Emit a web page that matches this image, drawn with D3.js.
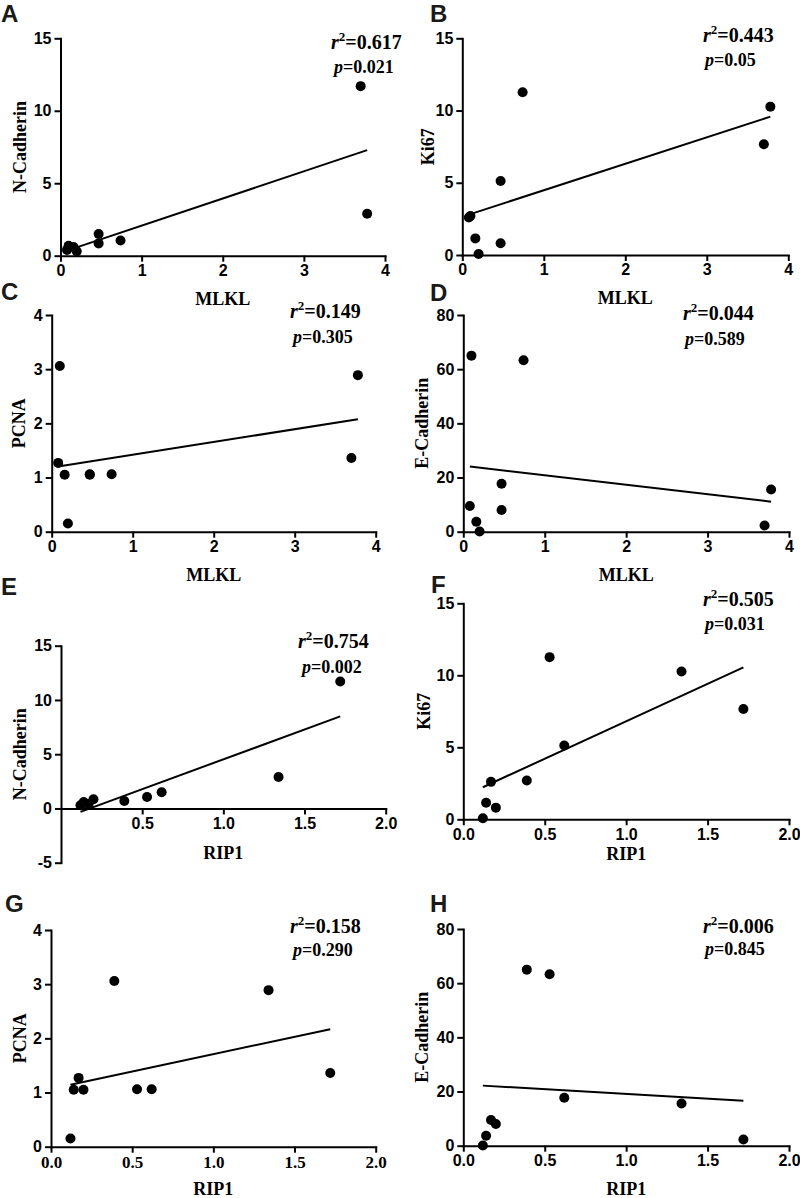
<!DOCTYPE html>
<html>
<head>
<meta charset="utf-8">
<script src="https://cdn.jsdelivr.net/npm/d3@7/dist/d3.min.js"></script>
<style>
  html, body { margin: 0; padding: 0; background: #fff; }
  svg { display: block; }
  .tick text { font-family: "Liberation Sans", Arial, sans-serif; font-weight: bold; font-size: 16px; fill: #000; }
  .serifticks .tick text { font-family: "Liberation Serif", "Times New Roman", serif; font-size: 17px; }
  .domain, .tick line { stroke: #000; stroke-width: 2; }
</style>
</head>
<body>
<svg id="chart" width="800" height="1198"></svg>
<script>
// ---- data: nine samples ----
const MLKL  = [0.20, 0.16, 0.47, 0.08, 0.10, 0.47, 0.74, 3.78, 3.70];
const RIP1  = [0.12, 0.14, 0.20, 0.17, 0.39, 0.62, 0.53, 1.34, 1.72];
const NCAD  = [0.30, 0.60, 0.85, 0.40, 0.68, 1.50, 1.05, 2.90, 11.70];
const KI67  = [0.07, 1.15, 0.81, 2.60, 2.70, 5.12, 11.26, 10.27, 7.66];
const PCNA  = [0.15, 1.05, 1.05, 1.27, 3.06, 1.06, 1.06, 2.89, 1.36];
const ECAD  = [0.10, 3.70, 8.00, 9.50, 65.0, 17.7, 63.3, 15.6, 2.30];

const panelLetters = ["A", "B", "C", "D", "E", "F", "G", "H"];
const xNames = ["MLKL", "MLKL", "MLKL", "MLKL", "RIP1", "RIP1", "RIP1", "RIP1"];
const yNames = ["N-Cadherin", "Ki67", "PCNA", "E-Cadherin", "N-Cadherin", "Ki67", "PCNA", "E-Cadherin"];
const r2Labels = ["0.617", "0.443", "0.149", "0.044", "0.754", "0.505", "0.158", "0.006"];
const pLabels  = ["0.021", "0.05", "0.305", "0.589", "0.002", "0.031", "0.290", "0.845"];

const xTicksMLKL = [0, 1, 2, 3, 4];
const xTicksRIP1 = [0, 0.5, 1.0, 1.5, 2.0];
const xTicksRIP1E = [0.5, 1.0, 1.5, 2.0];
const yTicksN = [0, 5, 10, 15];
const yTicksNE = [-5, 0, 5, 10, 15];
const yTicksP = [0, 1, 2, 3, 4];
const yTicksE = [0, 20, 40, 60, 80];

const seriesX = { MLKL: MLKL, RIP1: RIP1 };
const seriesY = { "N-Cadherin": NCAD, "Ki67": KI67, "PCNA": PCNA, "E-Cadherin": ECAD };

// ---- layout (positions only) ----
const layout = [
  { x0: 60.5, x1: 385,   yb: 255.7, yt: 38.3,  xd: [0, 4], yd: [0, 15],  xt: xTicksMLKL, yt2: yTicksN,  xf: "d",   letter: [1, 22],    stat: [331, 49, 334, 73],   ytx: 20,  tOff: 43 },
  { x0: 462.3, x1: 788.3, yb: 255,  yt: 38.3,  xd: [0, 4], yd: [0, 15],  xt: xTicksMLKL, yt2: yTicksN,  xf: "d",   letter: [430, 22],  stat: [703, 42, 705, 66],   ytx: 428, tOff: 43 },
  { x0: 51.7, x1: 375.7, yb: 531.7, yt: 315,   xd: [0, 4], yd: [0, 4],   xt: xTicksMLKL, yt2: yTicksP,  xf: "d",   letter: [1, 300],   stat: [290, 318, 293, 343], ytx: 19,  tOff: 43 },
  { x0: 463.3, x1: 789,  yb: 531.7, yt: 315,   xd: [0, 4], yd: [0, 80],  xt: xTicksMLKL, yt2: yTicksE,  xf: "d",   letter: [430, 301], stat: [683, 320, 685, 345], ytx: 422, tOff: 43 },
  { x0: 61,   x1: 385.7, yb: 862.7, yt: 645.7, xd: [0, 2], yd: [-5, 15], xt: xTicksRIP1E, yt2: yTicksNE, xf: ".1f", letter: [1, 595],   stat: [298, 648, 302, 673], ytx: 20,  tOff: 44, xAt0: true },
  { x0: 463.3, x1: 789,  yb: 819.3, yt: 603.3, xd: [0, 2], yd: [0, 15],  xt: xTicksRIP1, yt2: yTicksN,  xf: ".1f", letter: [431, 593], stat: [703, 606, 705, 630], ytx: 424, tOff: 34 },
  { x0: 51,   x1: 375.7, yb: 1146.7, yt: 930,  xd: [0, 2], yd: [0, 4],   xt: xTicksRIP1, yt2: yTicksP,  xf: ".1f", letter: [5, 912],   stat: [290, 933, 293, 956], ytx: 20,  tOff: 42, serifX: true },
  { x0: 463.3, x1: 789,  yb: 1145.7, yt: 929,  xd: [0, 2], yd: [0, 80],  xt: xTicksRIP1, yt2: yTicksE,  xf: ".1f", letter: [430, 912], stat: [703, 933, 705, 955], ytx: 422, tOff: 43 }
];

function ols(xs, ys) {
  const n = xs.length;
  const mx = d3.mean(xs), my = d3.mean(ys);
  let sxy = 0, sxx = 0;
  for (let i = 0; i < n; i++) { sxy += (xs[i] - mx) * (ys[i] - my); sxx += (xs[i] - mx) ** 2; }
  const b = sxy / sxx;
  return { b: b, a: my - b * mx };
}

const svg = d3.select("#chart");
const SERIF = '"Liberation Serif", "Times New Roman", serif';
const SANS = '"Liberation Sans", Arial, sans-serif';

layout.forEach((L, i) => {
  const xs = seriesX[xNames[i]], ys = seriesY[yNames[i]];
  const x = d3.scaleLinear().domain(L.xd).range([L.x0, L.x1]);
  const y = d3.scaleLinear().domain(L.yd).range([L.yb, L.yt]);
  const g = svg.append("g");
  const xAxisY = L.xAt0 ? y(0) : L.yb;

  // axes
  const xa = g.append("g").attr("transform", `translate(0,${xAxisY})`)
    .call(d3.axisBottom(x).tickValues(L.xt).tickFormat(d3.format(L.xf)).tickSize(6).tickPadding(3).tickSizeOuter(0));
  if (L.serifX) xa.classed("serifticks", true);
  g.append("g").attr("transform", `translate(${L.x0},0)`)
    .call(d3.axisLeft(y).tickValues(L.yt2).tickFormat(d => String(d)).tickSize(6).tickPadding(3).tickSizeOuter(0));
  g.selectAll(".domain").attr("stroke-linecap", "square");

  // regression line
  const fit = ols(xs, ys);
  const ext = d3.extent(xs);
  g.append("line")
    .attr("x1", x(ext[0])).attr("y1", y(fit.a + fit.b * ext[0]))
    .attr("x2", x(ext[1])).attr("y2", y(fit.a + fit.b * ext[1]))
    .attr("stroke", "#000").attr("stroke-width", 2);

  // points
  g.selectAll("circle.pt").data(xs.map((v, k) => [v, ys[k]])).join("circle")
    .attr("class", "pt").attr("cx", d => x(d[0])).attr("cy", d => y(d[1])).attr("r", 5).attr("fill", "#000");

  // axis titles
  g.append("text").attr("x", (L.x0 + L.x1) / 2).attr("y", xAxisY + L.tOff).attr("dy", "0.35em")
    .attr("text-anchor", "middle").attr("font-family", SERIF).attr("font-weight", "bold").attr("font-size", 18)
    .text(xNames[i]);
  g.append("text").attr("transform", `translate(${L.ytx},${(L.yb + L.yt) / 2}) rotate(-90)`).attr("dy", "0.35em")
    .attr("text-anchor", "middle").attr("font-family", SERIF).attr("font-weight", "bold").attr("font-size", 18)
    .text(yNames[i]);

  // panel letter
  svg.append("text").attr("x", L.letter[0]).attr("y", L.letter[1])
    .attr("font-family", SANS).attr("font-weight", "bold").attr("font-size", 24).attr("fill", "#1a1a1a")
    .text(panelLetters[i]);

  // statistics
  const t1 = g.append("text").attr("x", L.stat[0]).attr("y", L.stat[1])
    .attr("font-family", SERIF).attr("font-weight", "bold").attr("font-size", 20);
  t1.append("tspan").attr("font-style", "italic").text("r");
  t1.append("tspan").attr("font-size", 13).attr("dy", -8).text("2");
  t1.append("tspan").attr("dy", 8).text("=" + r2Labels[i]);
  const t2 = g.append("text").attr("x", L.stat[2]).attr("y", L.stat[3])
    .attr("font-family", SERIF).attr("font-weight", "bold").attr("font-size", 18);
  t2.append("tspan").attr("font-style", "italic").text("p");
  t2.append("tspan").text("=" + pLabels[i]);
});
</script>
</body>
</html>
